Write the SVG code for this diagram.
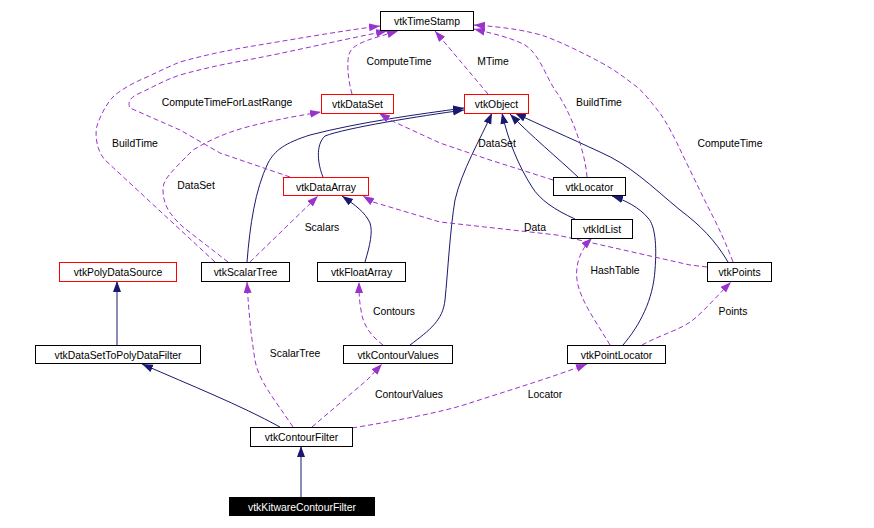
<svg xmlns="http://www.w3.org/2000/svg" width="874" height="528" viewBox="0 0 874 528">
<style>
text{font-family:"Liberation Sans",Arial,sans-serif;font-size:10.4px;fill:#000}
.n rect{fill:#fff;stroke:#000;stroke-width:1}
.r rect{stroke:#f00}
.n text{text-anchor:middle}
.k rect{fill:#000}
.k text{fill:#fff}
.inh{fill:none;stroke:#191970;stroke-width:1;marker-end:url(#ah)}
.use{fill:none;stroke:#9a32cd;stroke-width:1;stroke-dasharray:5,3;marker-end:url(#au)}
.lbl{text-anchor:middle}
</style>
<defs>
<marker id="ah" markerWidth="12" markerHeight="9" refX="11" refY="4" orient="auto" markerUnits="userSpaceOnUse"><path d="M0,0 L11,4 L0,8 z" fill="#191970"/></marker>
<marker id="au" markerWidth="12" markerHeight="9" refX="11" refY="4" orient="auto" markerUnits="userSpaceOnUse"><path d="M0,0 L11,4 L0,8 z" fill="#9a32cd"/></marker>
</defs>
<rect width="874" height="528" fill="#fff"/>
<g id="edges">
<path class="inh" d="M301,497 L301,446"/>
<path class="inh" d="M117,345 L117,281"/>
<path class="inh" d="M280,427 C240,405 190,385 142,364"/>
<path class="inh" d="M365,262 C370,245 373,232 370,223 C365,212 355,205 342,196"/>
<path class="inh" d="M247,262 C250,225 255,190 268,163 C275,150 285,143 310,135 C360,122 420,114 464,108"/>
<path class="inh" d="M323,177 C318,165 315,145 325,136 C345,128 420,116 464,110"/>
<path class="inh" d="M410,345 C430,330 443,320 445,300 C448,270 450,230 455,200 C462,170 480,140 492,113"/>
<path class="inh" d="M575,219 C555,210 540,200 532,187 C518,165 508,140 502,113"/>
<path class="inh" d="M578,177 C560,160 530,135 510,114"/>
<path class="inh" d="M728,262 C715,240 700,225 680,210 C650,185 630,165 600,152 C570,138 540,125 515,113"/>
<path class="inh" d="M623,345 C640,325 653,300 655,270 C657,245 655,225 648,218 C640,208 625,200 612,196"/>
<path class="use" d="M352,94 C348,80 346,60 350,52 C355,42 375,38 398,31"/>
<path class="use" d="M488,94 L435,31"/>
<path class="use" d="M587,177 C585,150 570,110 555,90 C545,75 540,55 525,45 C510,37 490,33 474,29"/>
<path class="use" d="M733,262 C723,235 712,215 703,197 C695,180 685,160 677,143 C668,125 662,115 655,107 C648,98 643,92 637,87 C625,78 615,70 600,62 C585,54 565,44 547,37 C530,31 505,27 474,25"/>
<path class="use" d="M215,262 L105,160 C96,150 94,132 98,123 C102,112 108,102 113,97 C118,92 130,84 147,77 C160,71 170,66 180,62 C205,55 225,51 247,47 C290,40 340,31 380,26"/>
<path class="use" d="M290,177 L220,153 L180,130 L130,108 C128,104 128,98 140,93 C155,86 165,80 180,75 C205,68 225,64 247,60 C290,52 340,40 387,31"/>
<path class="use" d="M228,262 L183,227 C170,215 163,205 163,190 C163,180 168,175 193,150 C210,140 225,133 247,127 C270,121 290,117 321,112"/>
<path class="use" d="M553,180 L490,160 L440,143 L390,120 L379,113"/>
<path class="use" d="M250,262 L318,196"/>
<path class="use" d="M707,267 L690,265 L557,235 L440,222 L373,202 L363,196"/>
<path class="use" d="M610,345 C595,320 580,300 577,280 C575,265 580,250 592,238"/>
<path class="use" d="M642,345 C660,335 680,330 693,320 C705,310 718,295 731,282"/>
<path class="use" d="M383,345 C370,335 363,325 361,310 C359,300 359,290 359,282"/>
<path class="use" d="M293,427 C275,400 258,380 255,360 C250,330 248,300 247,282"/>
<path class="use" d="M312,427 L367,380 L382,364"/>
<path class="use" d="M352,428 C400,420 443,412 470,403 C510,390 550,378 587,364"/>
<text class="lbl" x="399" y="65">ComputeTime</text>
<text class="lbl" x="493" y="65">MTime</text>
<text class="lbl" x="227" y="106">ComputeTimeForLastRange</text>
<text class="lbl" x="599" y="106">BuildTime</text>
<text class="lbl" x="135" y="147">BuildTime</text>
<text class="lbl" x="497" y="147">DataSet</text>
<text class="lbl" x="730" y="147">ComputeTime</text>
<text class="lbl" x="196" y="189">DataSet</text>
<text class="lbl" x="322" y="231">Scalars</text>
<text class="lbl" x="535" y="231">Data</text>
<text class="lbl" x="615" y="274">HashTable</text>
<text class="lbl" x="394" y="315">Contours</text>
<text class="lbl" x="733" y="315">Points</text>
<text class="lbl" x="295" y="357">ScalarTree</text>
<text class="lbl" x="409" y="398">ContourValues</text>
<text class="lbl" x="545" y="398">Locator</text>
</g>
<g id="vtkTimeStamp" class="n"><rect x="380.5" y="11.5" width="93" height="19"/><text x="427" y="25">vtkTimeStamp</text></g>
<g id="vtkDataSet" class="n r"><rect x="321.5" y="94.5" width="72" height="19"/><text x="357.5" y="108">vtkDataSet</text></g>
<g id="vtkObject" class="n r"><rect x="464.5" y="94.5" width="64" height="19"/><text x="496.5" y="108">vtkObject</text></g>
<g id="vtkDataArray" class="n r"><rect x="283.5" y="177.5" width="85" height="18"/><text x="326" y="190.5">vtkDataArray</text></g>
<g id="vtkLocator" class="n"><rect x="553.5" y="177.5" width="72" height="18"/><text x="589.5" y="190.5">vtkLocator</text></g>
<g id="vtkIdList" class="n"><rect x="571.5" y="219.5" width="61" height="19"/><text x="602" y="233">vtkIdList</text></g>
<g id="vtkPolyDataSource" class="n r"><rect x="59.5" y="262.5" width="117" height="19"/><text x="118" y="276">vtkPolyDataSource</text></g>
<g id="vtkScalarTree" class="n"><rect x="201.5" y="262.5" width="88" height="19"/><text x="245.5" y="276">vtkScalarTree</text></g>
<g id="vtkFloatArray" class="n"><rect x="317.5" y="262.5" width="88" height="19"/><text x="361.5" y="276">vtkFloatArray</text></g>
<g id="vtkPoints" class="n"><rect x="707.5" y="262.5" width="64" height="19"/><text x="739.5" y="276">vtkPoints</text></g>
<g id="vtkDataSetToPolyDataFilter" class="n"><rect x="35.5" y="345.5" width="165" height="18"/><text x="118" y="358.5">vtkDataSetToPolyDataFilter</text></g>
<g id="vtkContourValues" class="n"><rect x="343.5" y="345.5" width="109" height="18"/><text x="398" y="358.5">vtkContourValues</text></g>
<g id="vtkPointLocator" class="n"><rect x="567.5" y="345.5" width="98" height="18"/><text x="616.5" y="358.5">vtkPointLocator</text></g>
<g id="vtkContourFilter" class="n"><rect x="250.5" y="427.5" width="102" height="19"/><text x="301.5" y="441">vtkContourFilter</text></g>
<g id="vtkKitwareContourFilter" class="n k"><rect x="229.5" y="497.5" width="145" height="18"/><text x="302" y="510.5">vtkKitwareContourFilter</text></g>
</svg>
